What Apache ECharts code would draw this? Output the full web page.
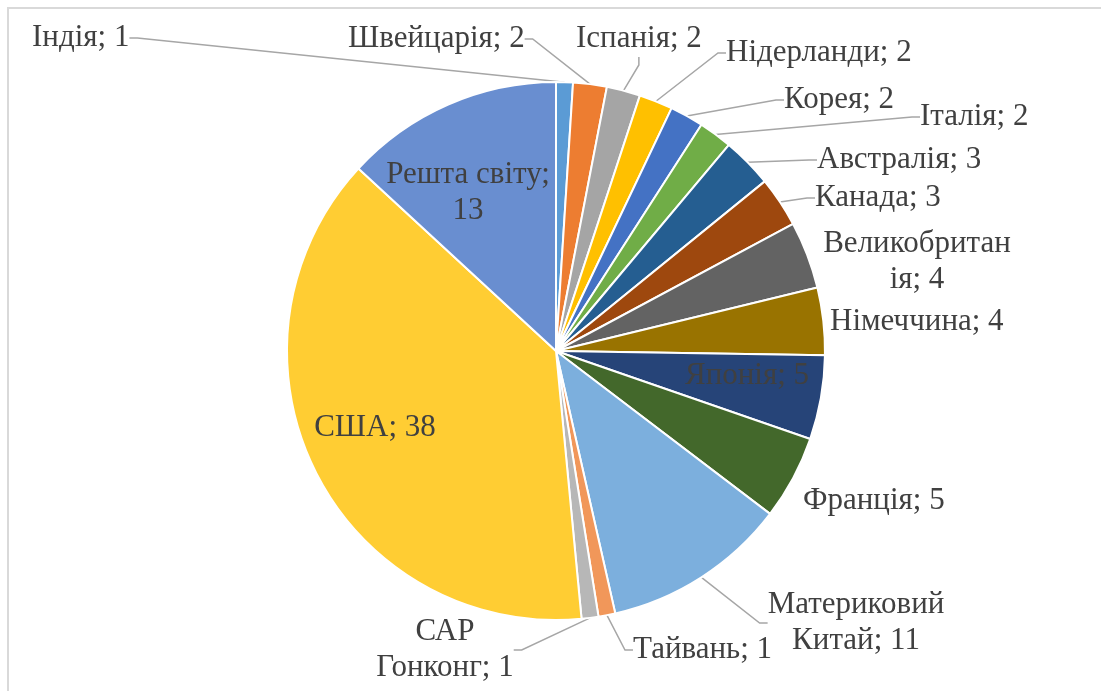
<!DOCTYPE html>
<html>
<head>
<meta charset="utf-8">
<script src="https://cdn.jsdelivr.net/npm/echarts@6/dist/echarts.min.js"></script>
<style>
html, body { margin: 0; padding: 0; background: #fff; overflow: hidden; }
#frame { position: absolute; left: 7px; top: 7px; width: 1094px; height: 684px;
         border-left: 2px solid #d9d9d9; border-top: 2px solid #d9d9d9; }
#chart { position: absolute; left: 0; top: 0; width: 1101px; height: 691px; }
</style>
</head>
<body>
<div id="frame"></div>
<div id="chart"></div>
<script>
// дані
const names = ['Індія', 'Швейцарія', 'Іспанія', 'Нідерланди', 'Корея', 'Італія', 'Австралія', 'Канада',
    'Великобританія', 'Німеччина', 'Японія', 'Франція', 'Материковий Китай', 'Тайвань', 'САР Гонконг',
    'США', 'Решта світу'];
const values = [1, 2, 2, 2, 2, 2, 3, 3, 4, 4, 5, 5, 11, 1, 1, 38, 13];

// кольори Office
const colors = ['#5b9bd5', '#ed7d31', '#a5a5a5', '#ffc000', '#4472c4', '#70ad47', '#255e91', '#9e480e',
    '#636363', '#997300', '#264478', '#43682b', '#7cafdd', '#f1975a', '#b7b7b7', '#ffcd33', '#698ed0'];

// підписи всередині сектора та без виносної лінії
const insideLabels = ['Японія', 'США', 'Решта світу'];
const noLeader = ['Великобританія', 'Німеччина', 'Франція'];

// перенос рядка: скільки символів у першому рядку
const lineBreaks = { 'Великобританія': 12, 'Материковий Китай': 11, 'САР Гонконг': 3, 'Решта світу': 12 };

// розташування підписів [x, y, вирівнювання]
const labelPos = [
    [32, 38, 'left'],
    [348, 39, 'left'],
    [576, 39, 'left'],
    [726, 53, 'left'],
    [784, 100, 'left'],
    [920, 117, 'left'],
    [817, 160, 'left'],
    [815, 198, 'left'],
    [917, 262, 'center'],
    [830, 322, 'left'],
    [747, 376, 'center'],
    [803, 501, 'left'],
    [856, 623, 'center'],
    [633, 650, 'left'],
    [445, 650, 'center'],
    [375, 428, 'center'],
    [468, 193, 'center']
];

function labelText(p) {
    const s = p.name + '; ' + p.value;
    const cut = lineBreaks[p.name];
    return cut ? s.slice(0, cut) + '\n' + s.slice(cut).trim() : s;
}

const chart = echarts.init(document.getElementById('chart'));

const data = names.map((n, i) => {
    const item = { name: n, value: values[i], itemStyle: { color: colors[i] } };
    if (insideLabels.includes(n)) {
        item.label = { position: 'inside' };
        item.labelLine = { show: false };
    } else if (noLeader.includes(n)) {
        item.labelLine = { show: false };
    }
    return item;
});

chart.setOption({
    animation: false,
    series: [{
        type: 'pie',
        center: [556, 351],
        radius: 269,
        startAngle: 90,
        clockwise: true,
        avoidLabelOverlap: false,
        emphasis: { disabled: true },
        itemStyle: { borderColor: '#fff', borderWidth: 2 },
        label: {
            show: true,
            position: 'outside',
            formatter: labelText,
            fontFamily: 'Liberation Serif',
            fontSize: 31,
            lineHeight: 36,
            color: '#404040',
            overflow: 'none'
        },
        labelLine: {
            show: true,
            length: 10,
            length2: 8,
            lineStyle: { color: '#a6a6a6', width: 1.5 }
        },
        labelLayout: function (p) {
            const pos = labelPos[p.dataIndex];
            return { x: pos[0], y: pos[1], align: pos[2], verticalAlign: 'middle' };
        },
        data: data
    }]
});
</script>
</body>
</html>
